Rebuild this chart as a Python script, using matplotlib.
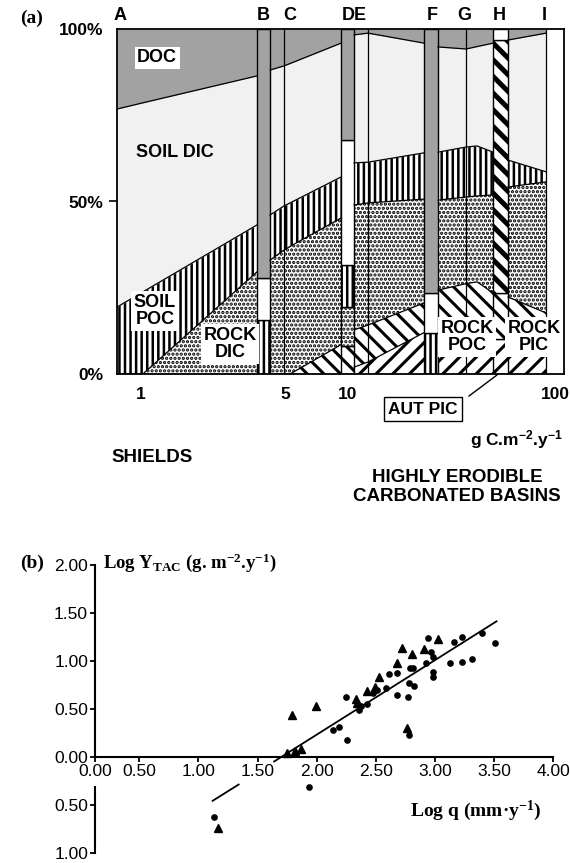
import matplotlib.pyplot as plt
import numpy as np
from matplotlib.patches import Rectangle
from matplotlib.lines import Line2D
from matplotlib.ticker import NullLocator

plt.rcParams['font.family'] = ['Liberation Sans', 'DejaVu Sans']
plt.rcParams['mathtext.default'] = 'regular'
plt.rcParams['hatch.linewidth'] = 1.8

# ---------------- (a) share of carbon species vs total flux (g C m-2 y-1)
site_names = ['A', 'B', 'C', 'DE', 'F', 'G', 'H', 'I']
site_flux = [0.79, 3.9, 5.25, 10.7, 25.4, 36.5, 54.0, 88.5]
flux_ticks = [1, 5, 10, 100]

# flux nodes of the stretches between the single-site bars
seg_flux = [[0.765, 1.02, 3.63],
            [4.2, 4.9, 5.25, 9.25],
            [10.7, 12.5, 23.3],
            [27.2, 37.2, 42.0, 50.2],
            [59.3, 90.5]]
# cumulative % at the top of each species, bottom to top
rock_pic = [[0, 0, 0], [0, 0, 0, 0], [2, 3.5, 12], [10, 10, 10, 10], [10, 10]]
rock_poc = [[0, 0, 0], [0, 0, 0, 8.5], [12.8, 14.2, 20.6], [24.3, 26.2, 26.7, 23.5], [22.3, 17.7]]
rock_dic = [[0, 0, 29.6], [33.0, 35.9, 37.0, 45.2], [49.0, 49.6, 50.7], [50.4, 51.3, 51.6, 51.9], [54.2, 55.7]]
soil_poc = [[19.4, 23.8, 43.2], [46.1, 48.7, 49.6, 57.1], [61.2, 61.4, 64.1], [64.3, 65.8, 66.1, 64.3], [62.0, 58.6]]
soil_dic = [[76.8, 78.6, 86.4], [88.1, 89.3, 90.0, 95.9], [98.3, 98.8, 95.9], [94.8, 94.2, 94.9, 95.9], [96.8, 98.8]]

# single-site bars
bar_flux = [(3.63, 4.2), (9.25, 10.7), (23.3, 27.2), (50.2, 59.3)]
bar_breaks = [[0, 15.7, 27.8, 100],
              [0, 8, 19.4, 31.6, 67.8, 100],
              [0, 11.9, 23.5, 100],
              [0, 10, 23.5, 96.8, 100]]
bar_kinds = [['soil_poc', 'blank', 'doc'],
             ['rock_poc', 'rock_dic', 'soil_poc', 'blank', 'doc'],
             ['soil_poc', 'blank', 'doc'],
             ['rock_pic', 'rock_poc', 'aut_pic', 'blank']]
site_lines = [4.9, 12.5, 37.2, 90.5]

# ---------------- (b) log Y_TAC vs log q
tri_x = [1.789, 1.994, 1.746, 1.817, 1.865, 2.332, 2.343, 2.428, 2.493, 2.530,
         2.682, 2.724, 2.803, 2.910, 3.023, 2.761, 1.168]
tri_y = [0.434, 0.531, 0.042, 0.062, 0.080, 0.600, 0.556, 0.688, 0.722, 0.833,
         0.972, 1.128, 1.069, 1.118, 1.222, 0.295, -0.740]
dot_x = [2.141, 2.192, 2.254, 2.248, 2.358, 2.428, 2.473, 2.586, 2.614, 2.682,
         2.682, 2.775, 2.783, 2.825, 2.789, 2.817, 2.783, 2.921, 2.944, 2.966,
         2.980, 2.986, 2.986, 3.127, 3.161, 3.225, 3.225, 3.310, 3.400, 3.507,
         2.507, 2.372, 1.938, 1.134]
dot_y = [0.278, 0.313, 0.174, 0.618, 0.486, 0.545, 0.660, 0.719, 0.861, 0.868,
         0.642, 0.625, 0.771, 0.736, 0.920, 0.920, 0.226, 0.979, 1.233, 1.094,
         1.042, 0.885, 0.833, 0.979, 1.198, 1.250, 0.983, 1.014, 1.285, 1.181,
         0.694, 0.528, -0.313, -0.625]
fit_lo_x, fit_lo_y = [1.12, 1.34], [-0.46, -0.29]
fit_hi_x, fit_hi_y = [1.64, 3.52], [-0.05, 1.41]

STYLE = {
    'doc': ('#a2a2a2', None, 1.0),
    'soil_dic': ('#f1f1f1', None, 1.0),
    'soil_poc': ('white', '|||', 1.8),
    'rock_dic': ('white', '....', 1.6),
    'rock_poc': ('white', '\\\\', 2.2),
    'rock_pic': ('white', '//', 2.2),
    'aut_pic': ('white', '\\\\', 3.6),
    'blank': ('white', None, 1.0),
}

W, H = 570.0, 863.0
fig = plt.figure(figsize=(5.7, 8.63), dpi=100)


def fx(px):
    return px / W


def fy(py):
    return 1 - py / H


def fill(ax, x, lo, hi, kind):
    fc, hatch, hlw = STYLE[kind]
    with plt.rc_context({'hatch.linewidth': hlw}):
        pc = ax.fill_between(x, lo, hi, facecolor=fc, edgecolor='black',
                             hatch=hatch, linewidth=0)
    if hasattr(pc, 'set_hatch_linewidth'):
        pc.set_hatch_linewidth(hlw)
    return pc


axa = fig.add_axes([fx(117), fy(374), 447 / W, 345 / H])
axa.set_xscale('log')
axa.set_xlim(0.765, 110.5)
axa.set_ylim(0, 100)

layers = [('rock_pic', rock_pic), ('rock_poc', rock_poc), ('rock_dic', rock_dic),
          ('soil_poc', soil_poc), ('soil_dic', soil_dic)]
for i, xs in enumerate(seg_flux):
    lower = np.zeros(len(xs))
    for kind, tops in layers:
        upper = np.array(tops[i], dtype=float)
        fill(axa, xs, lower, upper, kind)
        axa.plot(xs, upper, color='black', lw=0.9)
        lower = upper
    fill(axa, xs, lower, np.full(len(xs), 100.0), 'doc')

for (l, r), breaks, kinds in zip(bar_flux, bar_breaks, bar_kinds):
    for b, t, kind in zip(breaks[:-1], breaks[1:], kinds):
        fill(axa, [l, r], [b, b], [t, t], kind)
        axa.add_patch(Rectangle((l, b), r - l, t - b, fill=False,
                                edgecolor='black', lw=1.0))

axa.vlines(site_lines, 0, 100, color='black', lw=0.9)

for s in axa.spines.values():
    s.set_linewidth(1.3)
    s.set_zorder(5)
axa.set_xticks(flux_ticks, [str(v) for v in flux_ticks])
axa.xaxis.set_minor_locator(NullLocator())
axa.tick_params(axis='x', length=0, pad=9, labelsize=12.5)
axa.set_yticks([0, 50, 100], ['0%', '50%', '100%'])
axa.tick_params(axis='y', length=6, width=1.2, pad=4, labelsize=12.5)
yt = axa.yaxis.get_major_ticks()
yt[0].tick1line.set_visible(False)
yt[2].tick1line.set_visible(False)
for t in axa.get_xticklabels() + axa.get_yticklabels():
    t.set_fontweight('bold')

for name, xs in zip(site_names, site_flux):
    axa.text(xs, 103.8, name, ha='center', va='center', fontsize=13,
             fontweight='bold', clip_on=False)

box = dict(facecolor='white', edgecolor='none', pad=2)
inner = [('DOC', 0.090, 0.916, box), ('SOIL DIC', 0.130, 0.643, None),
         ('SOIL\nPOC', 0.085, 0.183, box), ('ROCK\nDIC', 0.253, 0.087, box),
         ('ROCK\nPOC', 0.783, 0.107, box), ('ROCK\nPIC', 0.933, 0.107, box)]
for txt, x, y, bb in inner:
    axa.text(x, y, txt, transform=axa.transAxes, ha='center', va='center',
             fontsize=13, fontweight='bold', linespacing=1.0, bbox=bb, zorder=6)

fig.text(fx(20), fy(18), '(a)', family='Liberation Serif', fontweight='bold',
         fontsize=14, va='center')
fig.text(fx(423), fy(409), 'AUT PIC', ha='center', va='center', fontsize=12.5,
         fontweight='bold',
         bbox=dict(facecolor='white', edgecolor='black', lw=1.0, pad=3))
fig.add_artist(Line2D([fx(469), fx(497)], [fy(396), fy(375)], color='black', lw=1.0))
fig.text(fx(563), fy(440), 'g C.m$^{-2}$.y$^{-1}$', ha='right', va='center',
         fontsize=12.5, fontweight='bold')
fig.text(fx(152), fy(457), 'SHIELDS', ha='center', va='center', fontsize=13.5,
         fontweight='bold')
fig.text(fx(457), fy(487), 'HIGHLY ERODIBLE\nCARBONATED BASINS', ha='center',
         va='center', fontsize=13.5, fontweight='bold', linespacing=1.15)

# ---------------- panel (b)
x0 = 0.126
axb = fig.add_axes([fx(95), fy(852.7), 458.3 / W, 288 / H])
axb.set_xlim(x0, 4.0)
axb.set_ylim(-1.0, 2.0)
for s in ['top', 'right', 'left']:
    axb.spines[s].set_visible(False)
axb.spines['bottom'].set_position(('data', 0))
axb.spines['bottom'].set_linewidth(1.5)
axb.plot([x0, x0], [0, 2], color='black', lw=1.5, clip_on=False)
axb.plot([x0, x0], [-1, -0.32], color='black', lw=1.5, clip_on=False)

xt = [x0, 0.5, 1.0, 1.5, 2.0, 2.5, 3.0, 3.5, 4.0]
axb.set_xticks(xt, ['0.00', '0.50', '1.00', '1.50', '2.00', '2.50', '3.00', '3.50', '4.00'])
ytv = [-1.0, -0.5, 0.0, 0.5, 1.0, 1.5, 2.0]
axb.set_yticks(ytv, ['1.00', '0.50', '0.00', '0.50', '1.00', '1.50', '2.00'])
axb.tick_params(axis='both', length=3.5, width=1.3, pad=1.5, labelsize=12.5)

axb.plot(fit_lo_x, fit_lo_y, color='black', lw=1.3)
axb.plot(fit_hi_x, fit_hi_y, color='black', lw=1.3)
axb.plot(dot_x, dot_y, 'o', color='black', ms=3.8, clip_on=False)
axb.plot(tri_x, tri_y, '^', color='black', ms=5.5, clip_on=False)

fig.text(fx(20), fy(563), '(b)', family='Liberation Serif', fontweight='bold',
         fontsize=14, va='center')
fig.text(fx(103), fy(563), 'Log Y$_{TAC}$ (g. m$^{-2}$.y$^{-1}$)',
         family='Liberation Serif', fontweight='bold', fontsize=13.5, va='center')
fig.text(fx(410), fy(811), 'Log q (mm\u00b7y$^{-1}$)', family='Liberation Serif',
         fontweight='bold', fontsize=14, va='center')

fig.savefig('out.png', dpi=100)
